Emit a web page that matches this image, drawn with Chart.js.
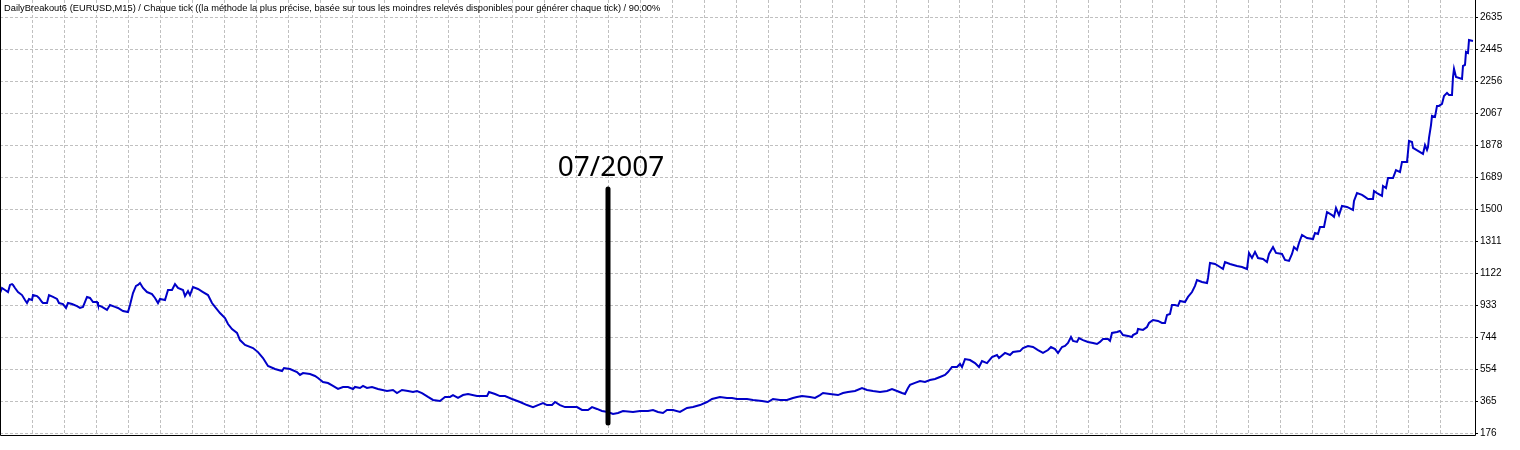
<!DOCTYPE html>
<html>
<head>
<meta charset="utf-8">
<script src="https://cdn.jsdelivr.net/npm/chart.js@4.4.1/dist/chart.umd.min.js"></script>
<style>
  html, body { margin: 0; padding: 0; background: #fff; }
  #wrap { width: 1520px; height: 450px; }
</style>
</head>
<body>
<div id="wrap"><canvas id="myChart"></canvas></div>
<script>
// titre du test (coin haut gauche)
const titreTest = 'DailyBreakout6 (EURUSD,M15) / Chaque tick ((la méthode la plus précise, basée sur tous les moindres relevés disponibles pour générer chaque tick) / 90.00%';

// axe Y : etiquettes de la balance
const yTicks = [176, 365, 554, 744, 933, 1122, 1311, 1500, 1689, 1878, 2067, 2256, 2445, 2635];

// numero de transaction (axe X sans etiquettes)
const trades = [0, 2, 5, 8, 10, 12, 13, 15, 18, 22, 25, 27, 29, 32, 33, 37, 39, 42, 43, 47,
  49, 53, 57, 59, 63, 66, 68, 72, 77, 80, 83, 87, 90, 93, 97, 98, 102, 107, 110, 115,
  118, 123, 128, 130, 133, 136, 138, 140, 143, 147, 152, 155, 158, 160, 165, 168, 172, 175, 178, 183,
  185, 188, 190, 193, 198, 203, 208, 212, 215, 220, 225, 228, 232, 237, 240, 245, 253, 258, 263, 268,
  275, 282, 284, 290, 297, 300, 303, 310, 315, 318, 323, 328, 333, 338, 343, 348, 353, 355, 360, 363,
  367, 372, 378, 387, 393, 397, 402, 408, 413, 417, 422, 428, 433, 440, 445, 450, 453, 458, 463, 468,
  477, 487, 489, 495, 500, 505, 512, 520, 527, 533, 538, 543, 547, 552, 555, 560, 565, 572, 577, 582,
  588, 592, 597, 602, 608, 613, 618, 623, 633, 640, 648, 653, 658, 663, 667, 673, 680, 687, 693, 700,
  707, 712, 720, 727, 732, 737, 747, 753, 762, 768, 773, 780, 787, 793, 797, 802, 810, 815, 820, 823,
  830, 838, 843, 848, 855, 862, 867, 873, 880, 887, 892, 897, 902, 905, 908, 910, 915, 920, 925, 930,
  935, 940, 945, 948, 952, 957, 960, 962, 965, 970, 975, 979, 982, 987, 992, 997, 999, 1005, 1010, 1013,
  1020, 1023, 1028, 1033, 1038, 1043, 1048, 1051, 1055, 1058, 1062, 1065, 1068, 1071, 1073, 1077, 1079, 1083, 1088, 1093,
  1097, 1100, 1103, 1108, 1110, 1112, 1117, 1120, 1123, 1128, 1132, 1133, 1137, 1138, 1143, 1147, 1149, 1153, 1158, 1162,
  1165, 1167, 1170, 1172, 1175, 1178, 1180, 1185, 1188, 1192, 1195, 1197, 1202, 1207, 1208, 1210, 1215, 1220, 1223, 1225,
  1230, 1237, 1242, 1247, 1249, 1252, 1255, 1258, 1263, 1267, 1269, 1273, 1276, 1282, 1285, 1289, 1292, 1294, 1297, 1299,
  1302, 1307, 1313, 1315, 1318, 1320, 1324, 1327, 1332, 1334, 1336, 1339, 1342, 1347, 1353, 1354, 1357, 1362, 1365, 1368,
  1373, 1374, 1377, 1382, 1383, 1386, 1388, 1393, 1396, 1400, 1402, 1407, 1408, 1409, 1412, 1413, 1418, 1423, 1425, 1427,
  1428, 1429, 1431, 1432, 1435, 1437, 1439, 1442, 1444, 1447, 1449, 1452, 1453, 1454, 1456, 1462, 1463, 1465, 1466, 1468,
  1469, 1473];

// balance du compte
const balance = [1006, 1036, 1024, 1012, 1054, 1059, 1054, 1036, 1012, 994, 965, 947, 971, 965, 994, 988, 977, 953, 947, 947,
  994, 983, 971, 947, 941, 918, 947, 941, 929, 918, 924, 983, 977, 953, 953, 935, 924, 906, 935, 924,
  918, 900, 894, 935, 1006, 1048, 1054, 1065, 1036, 1012, 1000, 977, 947, 971, 965, 1024, 1024, 1059, 1036, 1024,
  988, 1018, 994, 1042, 1030, 1012, 994, 947, 924, 888, 858, 823, 793, 770, 728, 699, 681, 657, 622, 575,
  557, 545, 563, 557, 539, 522, 533, 527, 516, 504, 480, 474, 457, 439, 451, 451, 439, 451, 445, 457,
  445, 451, 439, 427, 433, 415, 433, 427, 421, 427, 415, 392, 374, 368, 392, 392, 403, 386, 403, 409,
  397, 397, 421, 409, 397, 397, 380, 362, 344, 332, 344, 356, 344, 344, 362, 344, 332, 332, 332, 315,
  315, 332, 321, 309, 303, 291, 297, 309, 303, 309, 309, 315, 303, 297, 315, 315, 303, 327, 332, 344,
  362, 380, 392, 386, 386, 380, 380, 374, 368, 362, 380, 374, 374, 386, 392, 397, 392, 386, 403, 415,
  409, 403, 415, 421, 427, 445, 433, 427, 421, 427, 439, 427, 415, 409, 445, 463, 475, 486, 480, 492,
  498, 510, 522, 539, 569, 569, 587, 569, 616, 610, 592, 569, 604, 592, 628, 640, 622, 652, 640, 658,
  663, 681, 693, 687, 669, 652, 669, 687, 675, 652, 687, 693, 711, 746, 723, 717, 740, 728, 717, 711,
  705, 717, 734, 734, 723, 770, 776, 782, 758, 752, 746, 758, 770, 794, 788, 805, 829, 847, 841, 829,
  829, 876, 882, 935, 935, 930, 959, 953, 983, 1012, 1048, 1083, 1071, 1065, 1095, 1184, 1178, 1160, 1148, 1189,
  1178, 1166, 1160, 1148, 1243, 1213, 1249, 1213, 1207, 1189, 1237, 1278, 1243, 1237, 1202, 1196, 1237, 1278, 1261, 1302,
  1349, 1331, 1325, 1361, 1355, 1397, 1397, 1485, 1467, 1456, 1509, 1467, 1521, 1515, 1497, 1550, 1597, 1586, 1574, 1562,
  1562, 1609, 1597, 1580, 1639, 1627, 1686, 1686, 1733, 1721, 1781, 1781, 1840, 1905, 1899, 1864, 1846, 1828, 1881, 1852,
  1869, 1923, 1999, 2053, 2047, 2112, 2112, 2124, 2171, 2189, 2177, 2177, 2283, 2331, 2283, 2271, 2348, 2354, 2431, 2425,
  2502, 2496];

// repere 07/2007
const repereTexte = '07/2007';
const repereTrade = 608;
const repereHaut = 1621;
const repereBas = 238;

const pluginCadre = {
    id: 'cadre',
    afterDraw(chart) {
        const ctx = chart.ctx;
        const a = chart.chartArea;
        const x = chart.scales.x;
        const y = chart.scales.y;
        ctx.save();

        // repere vertical
        const px = x.getPixelForValue(repereTrade);
        ctx.strokeStyle = '#000';
        ctx.lineWidth = 5;
        ctx.lineCap = 'round';
        ctx.beginPath();
        ctx.moveTo(px, y.getPixelForValue(repereHaut));
        ctx.lineTo(px, y.getPixelForValue(repereBas));
        ctx.stroke();

        ctx.fillStyle = '#000';
        ctx.font = '28px "Noto Sans"';
        ctx.textAlign = 'center';
        ctx.textBaseline = 'alphabetic';
        ctx.fillText(repereTexte, px + 3, y.getPixelForValue(repereHaut) - 13);

        // bordures
        ctx.lineCap = 'butt';
        ctx.lineWidth = 1;
        ctx.beginPath();
        ctx.moveTo(a.left + 0.5, a.top);
        ctx.lineTo(a.left + 0.5, a.bottom + 0.5);
        ctx.lineTo(a.right + 0.5, a.bottom + 0.5);
        ctx.lineTo(a.right + 0.5, a.top);
        ctx.stroke();

        // titre
        ctx.font = '9.3px "Liberation Sans"';
        ctx.textAlign = 'left';
        ctx.fillText(titreTest, a.left + 4, a.top + 11);
        ctx.restore();
    }
};

const ctx = document.getElementById('myChart').getContext('2d');
new Chart(ctx, {
    type: 'line',
    data: {
        datasets: [{
            label: 'Balance',
            data: trades.map((t, i) => ({ x: t, y: balance[i] })),
            borderColor: '#0000c8',
            borderWidth: 2,
            pointRadius: 0,
            tension: 0,
            fill: false
        }]
    },
    options: {
        responsive: true,
        maintainAspectRatio: false,
        animation: false,
        layout: { padding: 0 },
        plugins: {
            legend: { display: false },
            tooltip: { enabled: false }
        },
        scales: {
            x: {
                type: 'linear',
                min: 0,
                max: 1475,
                ticks: { display: false, stepSize: 32 },
                grid: { color: '#c0c0c0', drawTicks: false },
                border: { display: false, dash: [3, 2] },
                afterFit(scale) {
                    scale.height = 15;
                    scale.paddingLeft = 0;
                    scale.paddingRight = 0;
                }
            },
            y: {
                position: 'right',
                min: 167,
                max: 2738,
                afterBuildTicks(scale) { scale.ticks = yTicks.map(v => ({ value: v })); },
                ticks: {
                    color: '#000',
                    font: { family: 'Liberation Sans', size: 10 },
                    padding: 2,
                    callback: v => String(v)
                },
                grid: {
                    color: '#c0c0c0',
                    tickColor: '#000',
                    tickLength: 3,
                    tickBorderDash: []
                },
                border: { display: false, dash: [3, 2] },
                afterFit(scale) {
                    scale.width = 45;
                    scale.paddingTop = 0;
                    scale.paddingBottom = 0;
                }
            }
        }
    },
    plugins: [pluginCadre]
});
</script>
</body>
</html>
